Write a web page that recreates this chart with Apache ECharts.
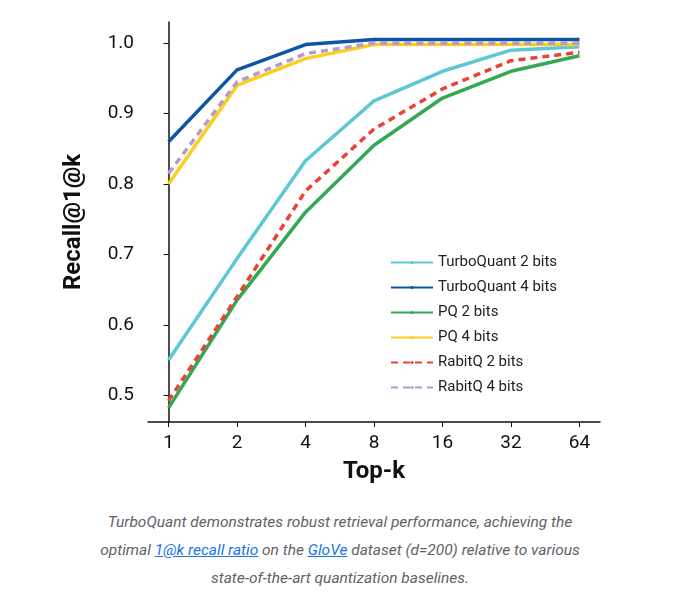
<!DOCTYPE html>
<html lang="en">
<head>
    <meta charset="UTF-8">
    <title>TurboQuant recall</title>
    <style>
        body{margin:0;background:#fff;}
        #main{width:680px;height:500px;}
        .cap{
            position:absolute;left:0;top:508px;width:680px;text-align:center;
            font-family:Roboto,sans-serif;font-style:italic;font-size:15.5px;
            line-height:28px;color:#5f6368;
        }
        .cap a{color:#1a73e8;text-decoration:underline;}
    </style>
    <script src="https://cdn.jsdelivr.net/npm/echarts@6/dist/echarts.min.js"></script>
</head>
<body>
<div id="main"></div>
<div class="cap">TurboQuant demonstrates robust retrieval performance, achieving the<br>
optimal <a>1@k recall ratio</a> on the <a>GloVe</a> dataset (d=200) relative to various<br>
state-of-the-art quantization baselines.</div>
<script type="text/javascript">
    var topK = ['1', '2', '4', '8', '16', '32', '64'];
    var yTicks = [0.5, 0.6, 0.7, 0.8, 0.9, 1.0];

    var turbo2 = [0.55, 0.694, 0.833, 0.918, 0.96, 0.99, 0.995];
    var turbo4 = [0.86, 0.962, 0.998, 1.005, 1.005, 1.005, 1.005];
    var pq2 = [0.482, 0.635, 0.76, 0.855, 0.922, 0.96, 0.982];
    var pq4 = [0.80, 0.94, 0.978, 0.998, 0.998, 0.998, 0.998];
    var rabit2 = [0.492, 0.64, 0.79, 0.878, 0.935, 0.975, 0.987];
    var rabit4 = [0.815, 0.945, 0.985, 1.0, 1.0, 1.0, 1.0];

    function pts(arr){
        return arr.map(function(v, i){ return [i, v]; });
    }
    function line(name, arr, color, dashed){
        return {
            name: name, type: 'line', data: pts(arr), showSymbol: false, symbol: 'none',
            lineStyle: {color: color, width: 3.5, type: dashed ? [7, 5] : 'solid'},
            itemStyle: {color: color}
        };
    }

    var myChart = echarts.init(document.getElementById('main'));
    var option = {
        animation: false,
        textStyle: {fontFamily: 'Roboto, sans-serif'},
        grid: {left: 148, right: 80, top: 22, bottom: 78},
        legend: {
            orient: 'vertical', left: 385, top: 250, itemGap: 10,
            itemWidth: 42, itemHeight: 4,
            textStyle: {fontSize: 15, color: '#222'},
            data: ['TurboQuant 2 bits', 'TurboQuant 4 bits', 'PQ 2 bits', 'PQ 4 bits', 'RabitQ 2 bits', 'RabitQ 4 bits']
        },
        xAxis: {
            type: 'value', min: -0.3, max: 6.3,
            name: 'Top-k', nameLocation: 'middle', nameGap: 38,
            nameTextStyle: {fontSize: 24, fontWeight: 'bold', color: '#111'},
            axisLine: {show: true, lineStyle: {color: '#111', width: 1.5}},
            axisTick: {show: true, customValues: [0, 1, 2, 3, 4, 5, 6], lineStyle: {color: '#111'}},
            axisLabel: {customValues: [0, 1, 2, 3, 4, 5, 6], fontSize: 19, color: '#111', margin: 12,
                formatter: function(v){ return topK[Math.round(v)]; }},
            splitLine: {show: false}
        },
        yAxis: {
            type: 'value', min: 0.462, max: 1.03,
            name: 'Recall@1@k', nameLocation: 'middle', nameGap: 62,
            nameTextStyle: {fontSize: 24, fontWeight: 'bold', color: '#111'},
            axisLine: {show: true, lineStyle: {color: '#111', width: 1.5}},
            axisTick: {show: true, customValues: yTicks, lineStyle: {color: '#111'}},
            axisLabel: {customValues: yTicks, fontSize: 19, color: '#111', margin: 14,
                formatter: function(v){ return v.toFixed(1); }},
            splitLine: {show: false}
        },
        series: [
            line('PQ 2 bits', pq2, '#34a853', false),
            line('RabitQ 2 bits', rabit2, '#ea4335', true),
            line('TurboQuant 2 bits', turbo2, '#5bc8d4', false),
            line('PQ 4 bits', pq4, '#fbcf20', false),
            line('RabitQ 4 bits', rabit4, '#b89acd', true),
            line('TurboQuant 4 bits', turbo4, '#0d56a6', false)
        ]
    };
    myChart.setOption(option);
</script>
</body>
</html>
